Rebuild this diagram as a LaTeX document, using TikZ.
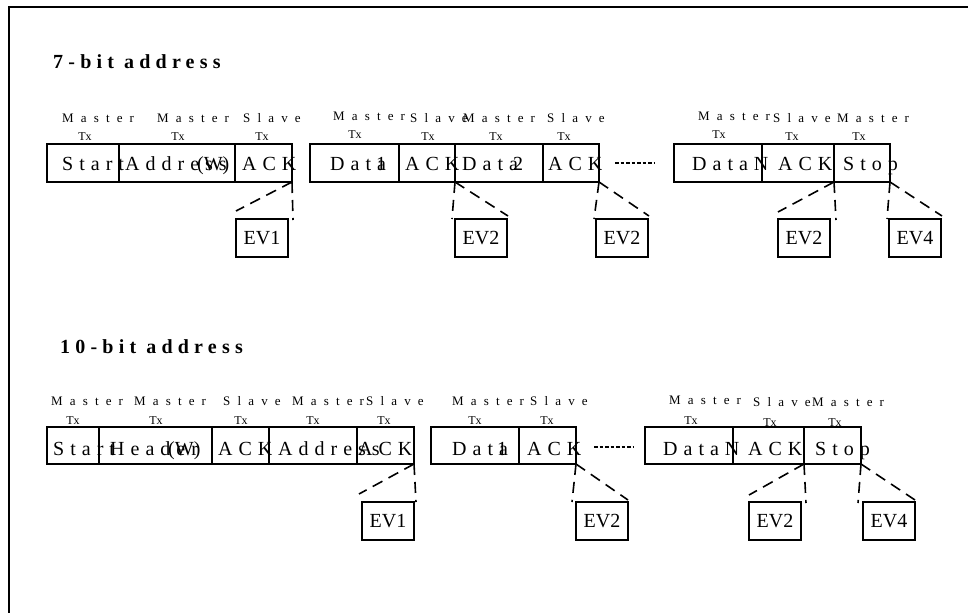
\documentclass[tikz,border=0pt]{standalone}
\usepackage{fontspec}
\setmainfont{Liberation Serif}
\newfontfamily\spacedfont[LetterSpace=30]{Liberation Serif}
\newfontfamily\whofont[LetterSpace=55]{Liberation Serif}
\newfontfamily\titlefont[LetterSpace=26]{Liberation Serif}

\tikzset{
  field/.style={draw, line width=2pt, outer sep=0pt, inner sep=0pt, anchor=north west, minimum height=38pt},
  evbox/.style={draw, line width=2pt, outer sep=0pt, inner sep=0pt, anchor=north west, minimum width=52pt, minimum height=38pt, font=\fontsize{20}{20}\selectfont},
  fieldtext/.style={anchor=base west, inner sep=0pt, font=\spacedfont\fontsize{20}{20}\selectfont},
  mixtext/.style={anchor=base west, inner sep=0pt, font=\fontsize{20}{20}\selectfont},
  who/.style={anchor=base west, inner sep=0pt, font=\whofont\fontsize{13}{13}\selectfont},
  tx/.style={anchor=base, inner sep=0pt, font=\fontsize{12}{12}\selectfont},
  zoomline/.style={line width=1.6pt, dash pattern=on 11pt off 7pt},
  dots/.style={line width=1.6pt, dash pattern=on 3.5pt off 2pt},
  title/.style={anchor=base west, inner sep=0pt, font=\titlefont\bfseries\fontsize{20}{20}\selectfont}
}

\begin{document}
\begin{tikzpicture}[x=1pt, y=-1pt]
    \useasboundingbox (0,0) rectangle (968,613);

    %frame
    \draw[line width=2pt] (968,7) -- (9,7) -- (9,613);

    %titles
    \node[title] (title7) at (53,68) {7-bit address};
    \node[title] (title10) at (60,353) {10-bit address};

    %7-bit fields
    \node[field, minimum width=72pt] (start1) at (47,144) {};
    \node[field, minimum width=116pt] (addr1) at (119,144) {};
    \node[field, minimum width=57pt] (ack1) at (235,144) {};
    \node[field, minimum width=89pt] (data1) at (310,144) {};
    \node[field, minimum width=56pt] (ack2) at (399,144) {};
    \node[field, minimum width=88pt] (data2) at (455,144) {};
    \node[field, minimum width=56pt] (ack3) at (543,144) {};
    \node[field, minimum width=88pt] (datan1) at (674,144) {};
    \node[field, minimum width=72pt] (ack4) at (762,144) {};
    \node[field, minimum width=56pt] (stop1) at (834,144) {};
    \draw[dots] (615,163) -- (655,163);

    %7-bit field texts
    \node[fieldtext] (t-start1) at (62,170) {Start};
    \node[mixtext] (t-addr1) at (125,170) {\rlap{\spacedfont Address}\hspace{72pt}(W)};
    \node[fieldtext] (t-ack1) at (242,170) {ACK};
    \node[mixtext] (t-data1) at (330,170) {\rlap{\spacedfont Data}\hspace{46pt}1};
    \node[fieldtext] (t-ack2) at (405,170) {ACK};
    \node[mixtext] (t-data2) at (462,170) {\rlap{\spacedfont Data}\hspace{51pt}2};
    \node[fieldtext] (t-ack3) at (548,170) {ACK};
    \node[fieldtext] (t-datan1) at (692,170) {DataN};
    \node[fieldtext] (t-ack4) at (778,170) {ACK};
    \node[fieldtext] (t-stop1) at (843,170) {Stop};

    %7-bit senders
    \node[who] (w-start1) at (62,122) {Master};
    \node[tx] (tx-start1) at (85,140) {Tx};
    \node[who] (w-addr1) at (157,122) {Master};
    \node[tx] (tx-addr1) at (178,140) {Tx};
    \node[who] (w-ack1) at (243,122) {Slave};
    \node[tx] (tx-ack1) at (262,140) {Tx};
    \node[who] (w-data1) at (333,120) {Master};
    \node[tx] (tx-data1) at (355,138) {Tx};
    \node[who] (w-ack2) at (410,122) {Slave};
    \node[tx] (tx-ack2) at (428,140) {Tx};
    \node[who] (w-data2) at (463,122) {Master};
    \node[tx] (tx-data2) at (496,140) {Tx};
    \node[who] (w-ack3) at (547,122) {Slave};
    \node[tx] (tx-ack3) at (564,140) {Tx};
    \node[who] (w-datan1) at (698,120) {Master};
    \node[tx] (tx-datan1) at (719,138) {Tx};
    \node[who] (w-ack4) at (773,122) {Slave};
    \node[tx] (tx-ack4) at (792,140) {Tx};
    \node[who] (w-stop1) at (837,122) {Master};
    \node[tx] (tx-stop1) at (859,140) {Tx};

    %7-bit events
    \node[evbox] (ev1a) at (236,219) {EV1};
    \node[evbox] (ev2a) at (455,219) {EV2};
    \node[evbox] (ev2b) at (596,219) {EV2};
    \node[evbox] (ev2c) at (778,219) {EV2};
    \node[evbox] (ev4a) at (889,219) {EV4};
    \draw[zoomline] (ack1.south east) -- ([yshift=8pt]ev1a.north west);
    \draw[zoomline] (ack1.south east) -- ([xshift=5pt,yshift=-1pt]ev1a.north east);
    \draw[zoomline] (ack2.south east) -- ([xshift=-3pt]ev2a.north west);
    \draw[zoomline] (ack2.south east) -- ([xshift=1pt,yshift=3pt]ev2a.north east);
    \draw[zoomline] (ack3.south east) -- ([xshift=-2pt]ev2b.north west);
    \draw[zoomline] (ack3.south east) -- ([xshift=1pt,yshift=3pt]ev2b.north east);
    \draw[zoomline] (ack4.south east) -- ([yshift=7pt]ev2c.north west);
    \draw[zoomline] (ack4.south east) -- ([xshift=6pt,yshift=-1pt]ev2c.north east);
    \draw[zoomline] (stop1.south east) -- ([xshift=-2pt]ev4a.north west);
    \draw[zoomline] (stop1.south east) -- ([xshift=1pt,yshift=3pt]ev4a.north east);

    %10-bit fields
    \node[field, minimum width=52pt, minimum height=37pt] (start2) at (47,427) {};
    \node[field, minimum width=113pt, minimum height=37pt] (head2) at (99,427) {};
    \node[field, minimum width=57pt, minimum height=37pt] (ack5) at (212,427) {};
    \node[field, minimum width=88pt, minimum height=37pt] (addr2) at (269,427) {};
    \node[field, minimum width=57pt, minimum height=37pt] (ack6) at (357,427) {};
    \node[field, minimum width=88pt, minimum height=37pt] (data3) at (431,427) {};
    \node[field, minimum width=57pt, minimum height=37pt] (ack7) at (519,427) {};
    \node[field, minimum width=88pt, minimum height=37pt] (datan2) at (645,427) {};
    \node[field, minimum width=71pt, minimum height=37pt] (ack8) at (733,427) {};
    \node[field, minimum width=57pt, minimum height=37pt] (stop2) at (804,427) {};
    \draw[dots] (594,447) -- (633,447);

    %10-bit field texts
    \node[fieldtext] (t-start2) at (53,455) {Start};
    \node[mixtext] (t-head2) at (110,455) {\rlap{\spacedfont Header}\hspace{58pt}(W)};
    \node[fieldtext] (t-ack5) at (218,455) {ACK};
    \node[fieldtext] (t-addr2) at (278,455) {Address};
    \node[fieldtext] (t-ack6) at (358,455) {ACK};
    \node[mixtext] (t-data3) at (452,455) {\rlap{\spacedfont Data}\hspace{45pt}1};
    \node[fieldtext] (t-ack7) at (527,455) {ACK};
    \node[fieldtext] (t-datan2) at (663,455) {DataN};
    \node[fieldtext] (t-ack8) at (748,455) {ACK};
    \node[fieldtext] (t-stop2) at (815,455) {Stop};

    %10-bit senders
    \node[who] (w-start2) at (51,405) {Master};
    \node[tx] (tx-start2) at (73,424) {Tx};
    \node[who] (w-head2) at (134,405) {Master};
    \node[tx] (tx-head2) at (156,424) {Tx};
    \node[who] (w-ack5) at (223,405) {Slave};
    \node[tx] (tx-ack5) at (241,424) {Tx};
    \node[who] (w-addr2) at (292,405) {Master};
    \node[tx] (tx-addr2) at (313,424) {Tx};
    \node[who] (w-ack6) at (366,405) {Slave};
    \node[tx] (tx-ack6) at (384,424) {Tx};
    \node[who] (w-data3) at (452,405) {Master};
    \node[tx] (tx-data3) at (475,424) {Tx};
    \node[who] (w-ack7) at (530,405) {Slave};
    \node[tx] (tx-ack7) at (547,424) {Tx};
    \node[who] (w-datan2) at (669,404) {Master};
    \node[tx] (tx-datan2) at (691,424) {Tx};
    \node[who] (w-ack8) at (753,406) {Slave};
    \node[tx] (tx-ack8) at (770,426) {Tx};
    \node[who] (w-stop2) at (812,406) {Master};
    \node[tx] (tx-stop2) at (835,426) {Tx};

    %10-bit events
    \node[evbox] (ev1b) at (362,502) {EV1};
    \node[evbox] (ev2d) at (576,502) {EV2};
    \node[evbox] (ev2e) at (749,502) {EV2};
    \node[evbox] (ev4b) at (863,502) {EV4};
    \draw[zoomline] (ack6.south east) -- ([xshift=-3pt,yshift=8pt]ev1b.north west);
    \draw[zoomline] (ack6.south east) -- ([xshift=2pt]ev1b.north east);
    \draw[zoomline] (ack7.south east) -- ([xshift=-4pt]ev2d.north west);
    \draw[zoomline] (ack7.south east) -- ([yshift=2pt]ev2d.north east);
    \draw[zoomline] (ack8.south east) -- ([yshift=7pt]ev2e.north west);
    \draw[zoomline] (ack8.south east) -- ([xshift=5pt,yshift=-1pt]ev2e.north east);
    \draw[zoomline] (stop2.south east) -- ([xshift=-5pt,yshift=-1pt]ev4b.north west);
    \draw[zoomline] (stop2.south east) -- ([yshift=2pt]ev4b.north east);
\end{tikzpicture}
\end{document}
